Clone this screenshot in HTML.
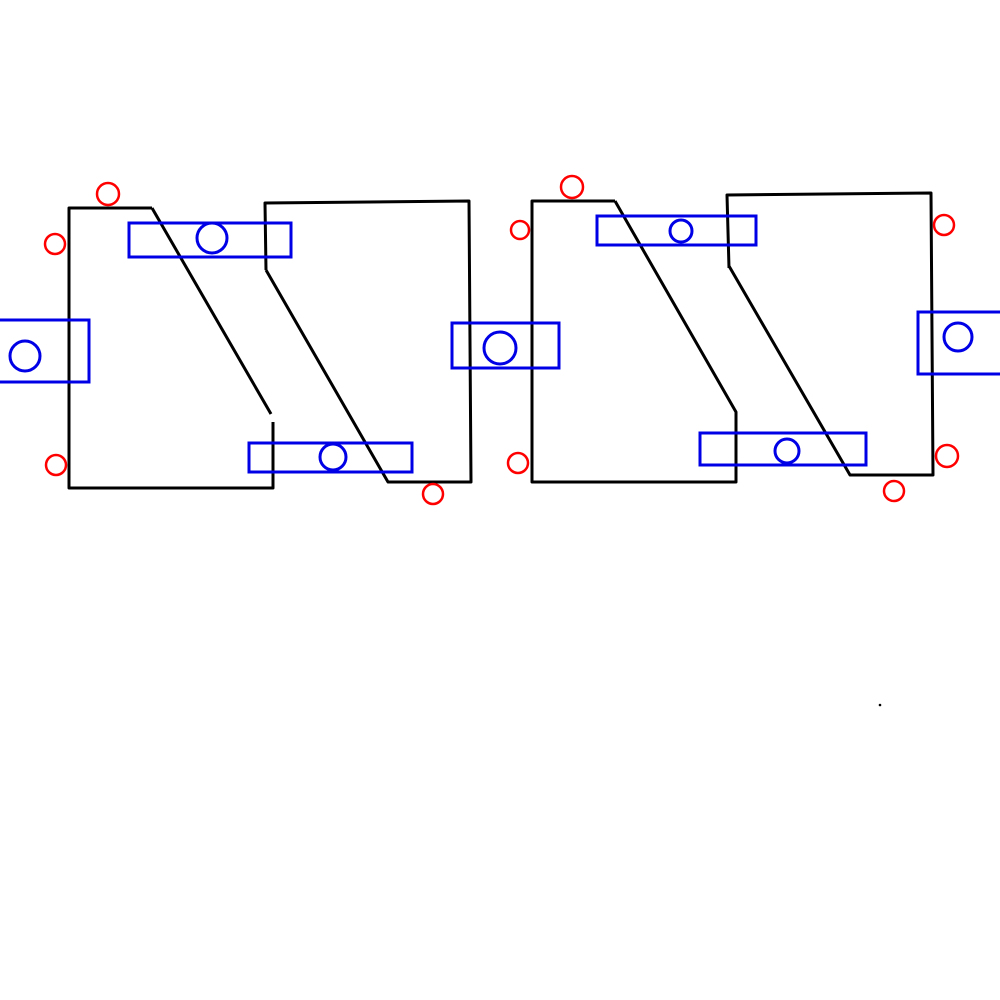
<!DOCTYPE html>
<html><head><meta charset="utf-8"><style>html,body{margin:0;padding:0;background:#fff}svg{display:block}</style></head>
<body>
<svg width="1000" height="1000" viewBox="0 0 1000 1000" xmlns="http://www.w3.org/2000/svg">
<g fill="none" stroke="#000" stroke-width="3" stroke-linejoin="round">
<polyline points="152,208 69,208 69,488 273,488 273,422"/>
<line x1="152" y1="208" x2="271" y2="414"/>
<polyline points="266,270 265,203 469,201 471,482 388,482 266,270"/>
<polyline points="615,201 532,201 532,482 736,482 736,412 615,201"/>
<polyline points="729,268 727,195 931,193 933,475 850,475 729,266"/>
</g>
<g fill="none" stroke="#0000e6" stroke-width="3">
<rect x="129" y="223" width="162" height="34"/><circle cx="212" cy="238" r="15"/>
<rect x="-5" y="320" width="94" height="62"/><circle cx="25" cy="356" r="15"/>
<rect x="249" y="443" width="163" height="29"/><circle cx="333" cy="457" r="13"/>
<rect x="452" y="323" width="107" height="45"/><circle cx="500" cy="348" r="16"/>
<rect x="597" y="216" width="159" height="29"/><circle cx="681" cy="231" r="11"/>
<rect x="700" y="433" width="166" height="32"/><circle cx="787" cy="451" r="12"/>
<rect x="918" y="312" width="90" height="62"/><circle cx="958" cy="337" r="14"/>
</g>
<g fill="none" stroke="#f00" stroke-width="2.5">
<circle cx="108" cy="194" r="11"/><circle cx="55" cy="244" r="10"/><circle cx="56" cy="465" r="10"/><circle cx="433" cy="494" r="10"/>
<circle cx="572" cy="187" r="11"/><circle cx="520" cy="230" r="9"/><circle cx="518" cy="463" r="10"/><circle cx="944" cy="225" r="10"/><circle cx="947" cy="456" r="11"/><circle cx="894" cy="491" r="10"/>
</g>
<circle cx="880" cy="705" r="1.3" fill="#000"/>
</svg>
</body></html>
